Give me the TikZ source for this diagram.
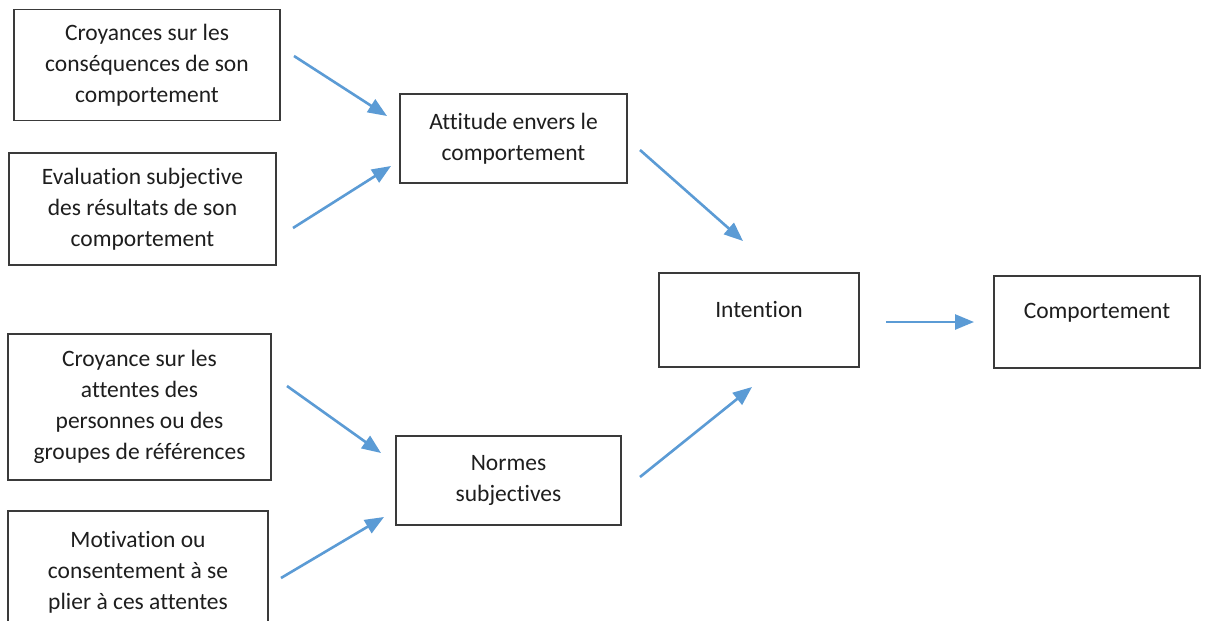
\documentclass[tikz,border=0pt]{standalone}
\usepackage{fontspec}
\setmainfont{Carlito}[Ligatures={NoCommon}]
\usetikzlibrary{arrows.meta}
\definecolor{boxline}{HTML}{3A3A3A}
\definecolor{arrowblue}{HTML}{5B9BD5}
\definecolor{textdark}{HTML}{1E1E1E}
\tikzset{
  box/.style={draw=boxline, line width=1.5pt, rectangle, align=center,
    text=textdark, inner sep=0pt,
    font=\fontsize{23.5}{31}\selectfont},
  flow/.style={draw=arrowblue, line width=2.6pt,
    -{Triangle[length=19pt,width=15pt]}},
}
\begin{document}
\begin{tikzpicture}[x=1pt,y=-1pt]
  \useasboundingbox (0,0) rectangle (1205,621);
  \clip (0,0) rectangle (1205,621);
  \fill[white] (0,0) rectangle (1205,621);

  % input beliefs
  \node[box, minimum width=266pt, minimum height=111pt] (b1) at (147,65)
    {Croyances sur les\\conséquences de son\\comportement};
  \node[box, minimum width=267pt, minimum height=112pt] (b2) at (142.5,209)
    {Evaluation subjective\\des résultats de son\\comportement};
  \node[box, minimum width=263pt, minimum height=146pt] (b3) at (139.5,407)
    {Croyance sur les\\attentes des\\personnes ou des\\groupes de références};
  \node[box, minimum width=260pt, minimum height=122pt] (b4) at (138,572)
    {Motivation ou\\consentement à se\\plier à ces attentes};

  % intermediate constructs
  \node[box, minimum width=227pt, minimum height=89pt] (att) at (513.5,138.5)
    {Attitude envers le\\comportement};
  \node[box, minimum width=225pt, minimum height=89pt] (norm) at (508.5,480.5)
    {Normes\\subjectives};

  % outcome
  \node[box, minimum width=200pt, minimum height=94pt, text depth=22pt] (int) at (759,320)
    {Intention};
  \node[box, minimum width=206pt, minimum height=92pt, text depth=22pt] (comp) at (1097,322)
    {Comportement};

  % arrow end points
  \coordinate (a1s) at (294,56);  \coordinate (a1e) at (387,116);
  \coordinate (a2s) at (293,228); \coordinate (a2e) at (391,166);
  \coordinate (a3s) at (640,150); \coordinate (a3e) at (743,241);
  \coordinate (a4s) at (287,386); \coordinate (a4e) at (381,453);
  \coordinate (a5s) at (281,578); \coordinate (a5e) at (384,517);
  \coordinate (a6s) at (640,477); \coordinate (a6e) at (752,387);
  \coordinate (a7s) at (886,322); \coordinate (a7e) at (974,322);

  \draw[flow] (a1s) -- (a1e);
  \draw[flow] (a2s) -- (a2e);
  \draw[flow] (a3s) -- (a3e);
  \draw[flow] (a4s) -- (a4e);
  \draw[flow] (a5s) -- (a5e);
  \draw[flow] (a6s) -- (a6e);
  \draw[flow] (a7s) -- (a7e);
\end{tikzpicture}
\end{document}
